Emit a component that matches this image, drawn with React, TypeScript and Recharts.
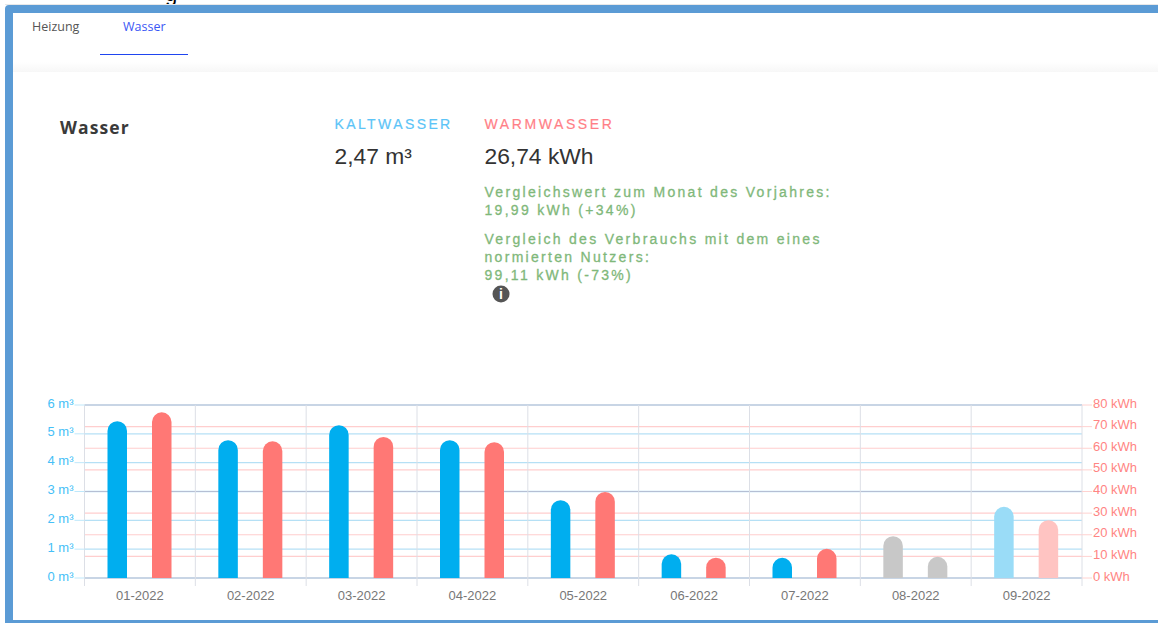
import React from "react";
import { BarChart, Bar, XAxis, YAxis, CartesianGrid, ReferenceLine, Cell } from "recharts";

const months = ["01-2022","02-2022","03-2022","04-2022","05-2022","06-2022","07-2022","08-2022","09-2022"];
const coldWater = [5.44,4.78,5.3,4.78,2.7,0.82,0.7,1.45,2.47];
const warmWater = [76.6,63.2,65.2,62.8,39.8,9.4,13.5,9.8,26.74];
const coldColors = ["#00aeef","#00aeef","#00aeef","#00aeef","#00aeef","#00aeef","#00aeef","#c8c8c8","#9adcf7"];
const warmColors = ["#ff7875","#ff7875","#ff7875","#ff7875","#ff7875","#ff7875","#ff7875","#c8c8c8","#ffc4c2"];
const coldTicks = [0,1,2,3,4,5,6];
const warmTicks = [0,10,20,30,40,50,60,70,80];
const rows = months.map((month, i) => ({ month, cold: coldWater[i], warm: warmWater[i] }));

const SANS = "'Liberation Sans', Arial, sans-serif";
const abs = (left: number, top: number, extra: React.CSSProperties = {}): React.CSSProperties => ({
  position: "absolute", left, top, whiteSpace: "nowrap", fontFamily: SANS, ...extra,
});
const TICK_GREY = "#dcdfe6";
const lastMonth = months[months.length - 1];

function MonthTick(props: any) {
  const { x, y, payload } = props;
  const off = payload.offset ?? 0;
  return (
    <g>
      <line x1={x - off} x2={x - off} y1={y - 8} y2={y} stroke={TICK_GREY} strokeWidth={1} />
      {payload.value === lastMonth && <line x1={x + off} x2={x + off} y1={y - 8} y2={y} stroke={TICK_GREY} strokeWidth={1} />}
      <text x={x} y={y + 13.5} textAnchor="middle" fontSize={13} fontFamily={SANS} fill="#777">{payload.value}</text>
    </g>
  );
}

const green: React.CSSProperties = { fontSize: 14, letterSpacing: 2.3, color: "#7fb87a", lineHeight: "18px", WebkitTextStroke: "0.3px #7fb87a" };

export default function App() {
  return (
    <div style={{ position: "absolute", left: 0, top: 0, width: 1158, height: 623, overflow: "hidden", background: "#fff" }}>
      <div style={abs(165, -16, { fontSize: 22, color: "#000", lineHeight: "20px" })}>g</div>
      <div style={{ position: "absolute", left: 5, top: 4, right: -20, height: 1, background: "#e8e8e8" }} />
      <div style={{ position: "absolute", left: 5, top: 5, width: 1175, height: 607, border: "8px solid #5b9bd5", borderRadius: 4, boxSizing: "content-box" }} />
      <div style={{ position: "absolute", left: 13, top: 62, width: 1145, height: 10, background: "linear-gradient(#ffffff,#f7f7f7)" }} />
      <div style={{ position: "absolute", left: 13, top: 72, width: 1145, height: 20, background: "#fff", borderTopLeftRadius: 12 }} />

      <div style={abs(32, 18, { fontSize: 12.5, color: "#555", fontFamily: "'Open Sans', sans-serif" })}>Heizung</div>
      <div style={abs(123, 18, { fontSize: 12.5, color: "#3a56f5", fontFamily: "'Open Sans', sans-serif" })}>Wasser</div>
      <div style={{ position: "absolute", left: 100, top: 53.5, width: 88, height: 1.5, background: "#1f45f0" }} />

      <div style={abs(60, 115, { fontSize: 17.5, fontWeight: 700, letterSpacing: 1.1, color: "#3a3a3a", fontFamily: "'Open Sans', sans-serif" })}>Wasser</div>
      <div style={abs(334.5, 116, { fontSize: 14, letterSpacing: 2.4, color: "#5cc4f7", WebkitTextStroke: "0.2px #5cc4f7" })}>KALTWASSER</div>
      <div style={abs(484.5, 116, { fontSize: 14, letterSpacing: 2.6, color: "#ff7f87", WebkitTextStroke: "0.2px #ff7f87" })}>WARMWASSER</div>
      <div style={abs(334.5, 143, { fontSize: 22.8, color: "#333" })}>2,47 m³</div>
      <div style={abs(484.5, 143, { fontSize: 22.8, color: "#333" })}>26,74 kWh</div>
      <div style={abs(484.5, 182.5, green)}>Vergleichswert zum Monat des Vorjahres:<br />19,99 kWh (+34%)</div>
      <div style={abs(484.5, 229.5, green)}>Vergleich des Verbrauchs mit dem eines<br />normierten Nutzers:<br />99,11 kWh (-73%)</div>
      <svg style={{ position: "absolute", left: 492, top: 285 }} width={18} height={18}>
        <circle cx={9} cy={9} r={8.5} fill="#555" />
        <text x={9} y={14} textAnchor="middle" fontSize={14} fontWeight={700} fontFamily={SANS} fill="#fff">i</text>
      </svg>

      <div style={{ position: "absolute", left: 0, top: 395 }}>
        <BarChart width={1158} height={219} data={rows} barSize={19.5} barGap={25}
          margin={{ top: 10, right: 6, bottom: 0, left: 24.5 }}>
          <CartesianGrid yAxisId="right" xAxisId={0} vertical={false} stroke="#ff6b6b" strokeOpacity={0.33} strokeWidth={1.2} />
          <CartesianGrid yAxisId="left" xAxisId={0} vertical={false} stroke="#1aa0e0" strokeOpacity={0.32} strokeWidth={1.4} />
          {months.slice(1).map((m) => (
            <ReferenceLine key={m} x={m} yAxisId="left" position="start" stroke={TICK_GREY} strokeWidth={1} />
          ))}
          <XAxis dataKey="month" xAxisId={0} height={36} tickLine={false} axisLine={false} interval={0} tick={<MonthTick />} />
          <YAxis yAxisId="left" orientation="left" width={60} domain={[0, 6]} ticks={coldTicks} interval={0}
            tickFormatter={(v: number) => `${v} m³`} tick={{ fontSize: 13, fill: "#45bff7", fontFamily: SANS, dy: -2 }}
            tickSize={10} tickMargin={1} tickLine={{ stroke: "#bfe8fb" }} axisLine={{ stroke: TICK_GREY }} />
          <YAxis yAxisId="right" orientation="right" width={70} domain={[0, 80]} ticks={warmTicks} interval={0}
            tickFormatter={(v: number) => `${v} kWh`} tick={{ fontSize: 13, fill: "#ff8583", fontFamily: SANS, dy: -2 }}
            tickSize={10} tickMargin={1} tickLine={{ stroke: "#ffd2d0" }} axisLine={{ stroke: TICK_GREY }} />
          <Bar dataKey="cold" yAxisId="left" xAxisId={0} radius={[10, 10, 0, 0]} isAnimationActive={false}>
            {coldColors.map((c, i) => <Cell key={i} fill={c} />)}
          </Bar>
          <Bar dataKey="warm" yAxisId="right" xAxisId={0} radius={[10, 10, 0, 0]} isAnimationActive={false}>
            {warmColors.map((c, i) => <Cell key={i} fill={c} />)}
          </Bar>
        </BarChart>
      </div>
    </div>
  );
}
